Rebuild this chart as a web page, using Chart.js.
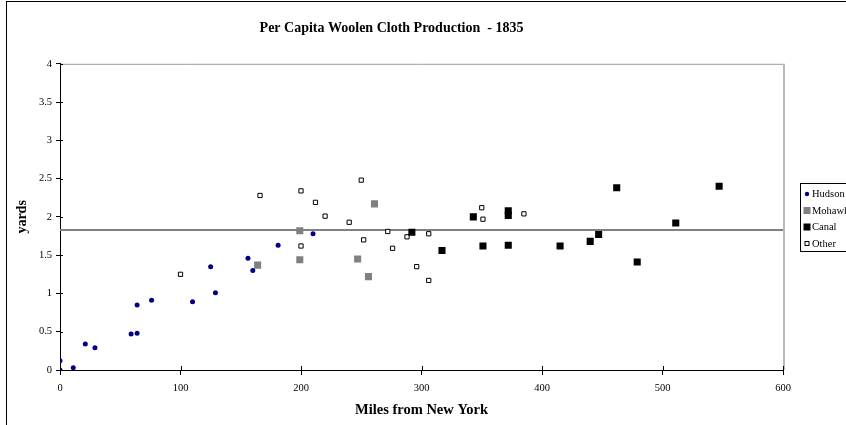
<!DOCTYPE html>
<html>
<head>
<meta charset="utf-8">
<script src="https://cdn.jsdelivr.net/npm/chart.js@4"></script>
<style>
  html, body { margin: 0; padding: 0; background: #fff; overflow: hidden; }
</style>
</head>
<body>
<canvas id="woolChart" width="846" height="425"></canvas>
<script>
// miles from New York / yards per capita
const hudsonX = [0, 0, 11, 21, 29, 59, 64, 64, 76, 110, 125, 129, 156, 160, 181, 210];
const hudsonY = [0.12, 0, 0.03, 0.34, 0.29, 0.47, 0.48, 0.85, 0.91, 0.89, 1.35, 1.01, 1.46, 1.30, 1.63, 1.78];

const mohawkX = [164, 199, 199, 247, 256, 261];
const mohawkY = [1.37, 1.82, 1.44, 1.45, 1.22, 2.17];

const canalX = [292, 317, 343, 351, 372, 372, 372, 415, 440, 447, 462, 479, 511, 547];
const canalY = [1.80, 1.56, 2.00, 1.62, 2.08, 2.02, 1.63, 1.62, 1.68, 1.77, 2.38, 1.41, 1.92, 2.40];

const otherX = [100, 166, 200, 200, 212, 220, 240, 250, 252, 272, 276, 288, 296, 306, 306, 350, 351, 385];
const otherY = [1.25, 2.28, 2.34, 1.62, 2.19, 2.01, 1.93, 2.48, 1.70, 1.81, 1.59, 1.74, 1.35, 1.78, 1.17, 2.12, 1.97, 2.04];

// state average line
const averageX = [0, 600];
const averageY = [1.83, 1.83];

const seriesNames = ['Hudson', 'Mohawk', 'Canal', 'Other'];

function pts(xs, ys) {
    return xs.map((x, i) => ({x: x, y: ys[i]}));
}

const serif = "'Liberation Serif', 'Times New Roman', serif";

// frame of the whole chart + gray plot border on top/right
const framePlugin = {
    id: 'frame',
    beforeDraw(chart) {
        const c = chart.ctx;
        const a = chart.chartArea;
        c.save();
        c.fillStyle = '#fff';
        c.fillRect(0, 0, chart.width, chart.height);
        c.strokeStyle = '#000';
        c.lineWidth = 1;
        c.strokeRect(6.5, 1.5, 900, 600);
        c.strokeStyle = '#999';
        c.beginPath();
        c.moveTo(a.left, a.top + 0.5);
        c.lineTo(a.right, a.top + 0.5);
        c.stroke();
        c.lineWidth = 2;
        c.strokeStyle = '#b8b8b8';
        c.beginPath();
        c.moveTo(a.right + 1, a.top);
        c.lineTo(a.right + 1, a.bottom);
        c.stroke();
        c.restore();
    },
    // small inward half of the tick marks, like the original
    afterDraw(chart) {
        const c = chart.ctx;
        const a = chart.chartArea;
        const xs = chart.scales.x, ys = chart.scales.y;
        c.save();
        c.strokeStyle = '#000';
        c.lineWidth = 1;
        c.beginPath();
        xs.ticks.forEach(t => {
            const px = Math.round(xs.getPixelForValue(t.value)) + 0.5;
            c.moveTo(px, a.bottom);
            c.lineTo(px, a.bottom - 4);
        });
        ys.ticks.forEach(t => {
            const py = Math.round(ys.getPixelForValue(t.value)) + 0.5;
            c.moveTo(a.left, py);
            c.lineTo(a.left + 3, py);
        });
        c.stroke();
        c.restore();
    }
};

// excel style legend box on the right (cut by the page edge)
const boxLegend = {
    id: 'boxLegend',
    afterDraw(chart) {
        const c = chart.ctx;
        const left = 800.5, top = 183.5, w = 80, h = 68;
        c.save();
        c.strokeStyle = '#000';
        c.lineWidth = 1;
        c.strokeRect(left, top, w, h);
        c.font = '10.5px ' + serif;
        c.textBaseline = 'middle';
        c.fillStyle = '#000';
        seriesNames.forEach((name, i) => {
            const ds = chart.data.datasets[i];
            const y = 194 + i * 16.5;
            const sx = 807;
            c.fillStyle = ds.pointBackgroundColor;
            c.strokeStyle = ds.pointBorderColor;
            c.lineWidth = ds.pointBorderWidth;
            if (name === 'Hudson') {
                c.beginPath();
                c.arc(sx, y, 2.2, 0, Math.PI * 2);
                c.fill();
            } else if (name === 'Other') {
                c.fillRect(sx - 2, y - 2, 4, 4);
                c.strokeRect(sx - 2, y - 2, 4, 4);
            } else {
                c.fillRect(sx - 3.5, y - 3.5, 7, 7);
            }
            c.fillStyle = '#000';
            c.fillText(name, 812, y + 0.5);
        });
        c.restore();
    }
};

const config = {
    type: 'scatter',
    data: {
        datasets: [
            {
                label: seriesNames[0],
                data: pts(hudsonX, hudsonY),
                pointStyle: 'circle',
                pointRadius: 2.5,
                pointBackgroundColor: '#000080',
                pointBorderColor: '#000080',
                pointBorderWidth: 0,
                order: 0
            },
            {
                label: seriesNames[1],
                data: pts(mohawkX, mohawkY),
                pointStyle: 'rect',
                pointRadius: 5,
                pointBackgroundColor: '#808080',
                pointBorderColor: '#808080',
                pointBorderWidth: 0,
                order: 0
            },
            {
                label: seriesNames[2],
                data: pts(canalX, canalY),
                pointStyle: 'rect',
                pointRadius: 5,
                pointBackgroundColor: '#000000',
                pointBorderColor: '#000000',
                pointBorderWidth: 0,
                order: 0
            },
            {
                label: seriesNames[3],
                data: pts(otherX, otherY),
                pointStyle: 'rect',
                pointRadius: 3,
                pointBackgroundColor: '#ffffff',
                pointBorderColor: '#000000',
                pointBorderWidth: 1,
                order: 0
            },
            {
                type: 'line',
                label: 'average',
                data: pts(averageX, averageY),
                borderColor: '#808080',
                borderWidth: 2,
                pointRadius: 0,
                fill: false,
                order: 1
            }
        ]
    },
    options: {
        responsive: false,
        animation: false,
        events: [],
        layout: {
            padding: {left: 0, right: 63, top: 0, bottom: 0}
        },
        plugins: {
            legend: {display: false},
            tooltip: {enabled: false},
            title: {
                display: true,
                text: 'Per Capita Woolen Cloth Production  - 1835',
                color: '#000',
                font: {family: serif, size: 14, weight: 'bold'},
                padding: {top: 20, bottom: 27}
            }
        },
        scales: {
            x: {
                type: 'linear',
                min: 0,
                max: 600,
                ticks: {
                    stepSize: 100,
                    color: '#000',
                    font: {family: serif, size: 10.5},
                    padding: 7
                },
                grid: {
                    drawOnChartArea: false,
                    tickLength: 5,
                    color: '#000'
                },
                border: {color: '#000', width: 1},
                title: {
                    display: true,
                    text: 'Miles from New York',
                    color: '#000',
                    font: {family: serif, size: 14.5, weight: 'bold'},
                    padding: {top: 6, bottom: 6}
                },
                afterFit(scale) { scale.height = 55; }
            },
            y: {
                type: 'linear',
                min: 0,
                max: 4,
                ticks: {
                    stepSize: 0.5,
                    color: '#000',
                    font: {family: serif, size: 10.5},
                    padding: 4,
                    callback: v => String(v)
                },
                grid: {
                    drawOnChartArea: false,
                    tickLength: 4,
                    color: '#000'
                },
                border: {color: '#000', width: 1},
                title: {
                    display: true,
                    text: 'yards',
                    color: '#000',
                    font: {family: serif, size: 14, weight: 'bold'},
                    padding: {top: 14, bottom: 0}
                },
                afterFit(scale) { scale.width = 60; }
            }
        }
    },
    plugins: [framePlugin, boxLegend]
};

new Chart(document.getElementById('woolChart').getContext('2d'), config);
</script>
</body>
</html>
